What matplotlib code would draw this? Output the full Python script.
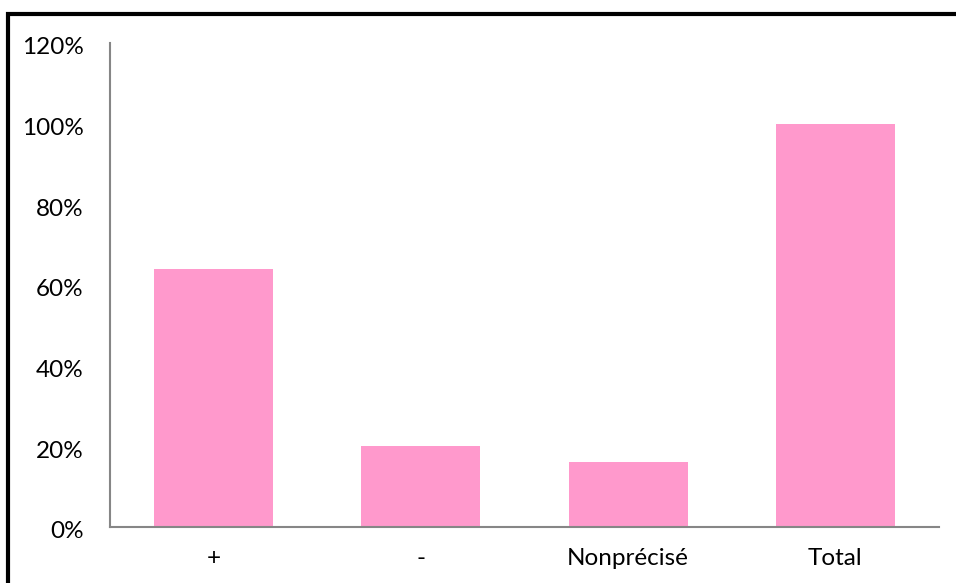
import matplotlib
matplotlib.use("Agg")
import matplotlib.pyplot as plt
from matplotlib.patches import Rectangle
from matplotlib.ticker import FuncFormatter
from matplotlib.transforms import ScaledTranslation

categories = ["+", "-", "Nonprécisé", "Total"]
values = [64, 20, 16, 100]
y_ticks = [0, 20, 40, 60, 80, 100, 120]

W, H = 956, 583
fig = plt.figure(figsize=(W / 100, H / 100), dpi=100)
plt.rcParams["font.family"] = ["Lato", "DejaVu Sans"]

ax = fig.add_axes([110 / W, (H - 527) / H, (939 - 110) / W, (527 - 43) / H])

x = range(len(categories))
ax.bar(x, values, width=0.575, color="#FF99CC", zorder=2)

ax.set_xlim(-0.5, len(categories) - 0.5)
ax.set_ylim(0, 120)
ax.set_yticks(y_ticks)
ax.yaxis.set_major_formatter(FuncFormatter(lambda v, p: f"{v:.0f}%"))
ax.set_xticks(list(x))
ax.set_xticklabels(categories)

for side in ("top", "right"):
    ax.spines[side].set_visible(False)
for side in ("left", "bottom"):
    ax.spines[side].set_color("#868686")
    ax.spines[side].set_linewidth(1.5)

ax.tick_params(axis="y", length=0, pad=19, labelsize=17.5, colors="black")
ax.tick_params(axis="x", length=0, pad=15, labelsize=17.5, colors="black")

# nudge the percentage labels slightly downward
shift = ScaledTranslation(0, -3 / 100, fig.dpi_scale_trans)
for lbl in ax.get_yticklabels():
    lbl.set_transform(lbl.get_transform() + shift)

# Outer frame around the chart area
fig.add_artist(Rectangle((8 / W, -0.1), 1.2, (H - 14) / H + 0.1,
                         transform=fig.transFigure, fill=False,
                         edgecolor="black", linewidth=3))

fig.savefig("out.png", dpi=100)
